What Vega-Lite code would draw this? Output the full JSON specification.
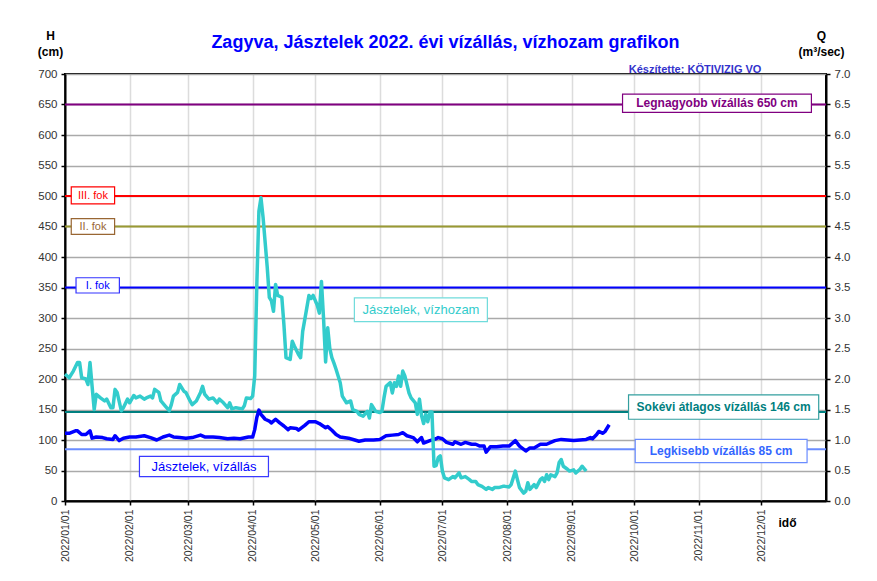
{
  "$schema": "https://vega.github.io/schema/vega-lite/v6.json",
  "autosize": {"type": "none"},
  "padding": {"left": 65, "top": 74, "right": 51, "bottom": 80},
  "width": 761,
  "height": 427,
  "background": "white",
  "title": {
    "text": "Zagyva, Jásztelek 2022. évi vízállás, vízhozam grafikon",
    "anchor": "middle",
    "frame": "group",
    "font": "Liberation Sans",
    "fontSize": 18,
    "fontWeight": "bold",
    "color": "#0000ff",
    "baseline": "alphabetic",
    "offset": -37
  },
  "config": {
    "font": "Liberation Sans",
    "view": {"stroke": "#000000", "strokeWidth": 2},
    "axis": {
      "domainColor": "#000000",
      "domainWidth": 2,
      "tickColor": "#000000",
      "tickWidth": 1.5,
      "tickSize": 4,
      "labelColor": "#333333",
      "labelFont": "Liberation Sans",
      "titleFont": "Liberation Sans",
      "titleColor": "#000000"
    }
  },
  "datasets": {
    "h": [
      {"d": "2022-01-01", "h": 111}, {"d": "2022-01-03", "h": 111}, {"d": "2022-01-06", "h": 115}, {"d": "2022-01-07", "h": 115},
      {"d": "2022-01-09", "h": 109}, {"d": "2022-01-11", "h": 109}, {"d": "2022-01-13", "h": 115}, {"d": "2022-01-14", "h": 103},
      {"d": "2022-01-16", "h": 105}, {"d": "2022-01-19", "h": 104}, {"d": "2022-01-21", "h": 102}, {"d": "2022-01-24", "h": 101},
      {"d": "2022-01-25", "h": 107}, {"d": "2022-01-27", "h": 99}, {"d": "2022-01-29", "h": 103}, {"d": "2022-02-01", "h": 105},
      {"d": "2022-02-04", "h": 105}, {"d": "2022-02-08", "h": 107}, {"d": "2022-02-11", "h": 104}, {"d": "2022-02-14", "h": 100},
      {"d": "2022-02-17", "h": 105}, {"d": "2022-02-20", "h": 108}, {"d": "2022-02-22", "h": 105}, {"d": "2022-02-25", "h": 104},
      {"d": "2022-02-28", "h": 103}, {"d": "2022-03-03", "h": 104}, {"d": "2022-03-07", "h": 108}, {"d": "2022-03-09", "h": 105},
      {"d": "2022-03-13", "h": 105}, {"d": "2022-03-16", "h": 104}, {"d": "2022-03-20", "h": 102}, {"d": "2022-03-23", "h": 103},
      {"d": "2022-03-26", "h": 102}, {"d": "2022-03-30", "h": 105}, {"d": "2022-04-01", "h": 105}, {"d": "2022-04-02", "h": 117},
      {"d": "2022-04-03", "h": 137}, {"d": "2022-04-04", "h": 149}, {"d": "2022-04-05", "h": 142}, {"d": "2022-04-07", "h": 134},
      {"d": "2022-04-09", "h": 131}, {"d": "2022-04-10", "h": 128}, {"d": "2022-04-12", "h": 134}, {"d": "2022-04-14", "h": 128},
      {"d": "2022-04-16", "h": 123}, {"d": "2022-04-18", "h": 117}, {"d": "2022-04-19", "h": 120}, {"d": "2022-04-22", "h": 119},
      {"d": "2022-04-23", "h": 116}, {"d": "2022-04-26", "h": 124}, {"d": "2022-04-28", "h": 130}, {"d": "2022-05-01", "h": 130},
      {"d": "2022-05-03", "h": 127}, {"d": "2022-05-06", "h": 120}, {"d": "2022-05-07", "h": 122}, {"d": "2022-05-09", "h": 116},
      {"d": "2022-05-11", "h": 109}, {"d": "2022-05-13", "h": 105}, {"d": "2022-05-17", "h": 103}, {"d": "2022-05-20", "h": 100},
      {"d": "2022-05-22", "h": 98}, {"d": "2022-05-25", "h": 100}, {"d": "2022-05-29", "h": 100}, {"d": "2022-06-01", "h": 101},
      {"d": "2022-06-04", "h": 107}, {"d": "2022-06-07", "h": 108}, {"d": "2022-06-10", "h": 109}, {"d": "2022-06-12", "h": 112},
      {"d": "2022-06-14", "h": 107}, {"d": "2022-06-17", "h": 104}, {"d": "2022-06-19", "h": 97}, {"d": "2022-06-21", "h": 104},
      {"d": "2022-06-22", "h": 95}, {"d": "2022-06-25", "h": 99}, {"d": "2022-06-28", "h": 102}, {"d": "2022-06-29", "h": 104},
      {"d": "2022-07-01", "h": 102}, {"d": "2022-07-03", "h": 96}, {"d": "2022-07-06", "h": 93}, {"d": "2022-07-07", "h": 97},
      {"d": "2022-07-10", "h": 93}, {"d": "2022-07-12", "h": 96}, {"d": "2022-07-15", "h": 93}, {"d": "2022-07-17", "h": 93},
      {"d": "2022-07-19", "h": 90}, {"d": "2022-07-21", "h": 90}, {"d": "2022-07-22", "h": 80}, {"d": "2022-07-24", "h": 89},
      {"d": "2022-07-27", "h": 89}, {"d": "2022-07-30", "h": 90}, {"d": "2022-08-02", "h": 90}, {"d": "2022-08-05", "h": 99},
      {"d": "2022-08-07", "h": 90}, {"d": "2022-08-10", "h": 82}, {"d": "2022-08-12", "h": 87}, {"d": "2022-08-14", "h": 87},
      {"d": "2022-08-17", "h": 93}, {"d": "2022-08-20", "h": 93}, {"d": "2022-08-22", "h": 96}, {"d": "2022-08-24", "h": 99},
      {"d": "2022-08-27", "h": 101}, {"d": "2022-08-30", "h": 100}, {"d": "2022-09-02", "h": 99}, {"d": "2022-09-05", "h": 100},
      {"d": "2022-09-08", "h": 101}, {"d": "2022-09-10", "h": 104}, {"d": "2022-09-11", "h": 102}, {"d": "2022-09-13", "h": 109},
      {"d": "2022-09-14", "h": 114}, {"d": "2022-09-16", "h": 111}, {"d": "2022-09-17", "h": 114}, {"d": "2022-09-19", "h": 125}
    ],
    "q": [
      {"d": "2022-01-01", "q": 2.08}, {"d": "2022-01-03", "q": 2.02}, {"d": "2022-01-05", "q": 2.13}, {"d": "2022-01-07", "q": 2.27},
      {"d": "2022-01-08", "q": 2.27}, {"d": "2022-01-09", "q": 2.02}, {"d": "2022-01-11", "q": 2.0}, {"d": "2022-01-12", "q": 1.91},
      {"d": "2022-01-13", "q": 2.27}, {"d": "2022-01-14", "q": 1.88}, {"d": "2022-01-15", "q": 1.5}, {"d": "2022-01-16", "q": 1.75},
      {"d": "2022-01-18", "q": 1.69}, {"d": "2022-01-20", "q": 1.64}, {"d": "2022-01-21", "q": 1.67}, {"d": "2022-01-23", "q": 1.53},
      {"d": "2022-01-24", "q": 1.53}, {"d": "2022-01-25", "q": 1.83}, {"d": "2022-01-26", "q": 1.78}, {"d": "2022-01-28", "q": 1.48},
      {"d": "2022-01-29", "q": 1.53}, {"d": "2022-01-31", "q": 1.67}, {"d": "2022-02-01", "q": 1.61}, {"d": "2022-02-03", "q": 1.73},
      {"d": "2022-02-04", "q": 1.69}, {"d": "2022-02-06", "q": 1.72}, {"d": "2022-02-08", "q": 1.67}, {"d": "2022-02-09", "q": 1.69},
      {"d": "2022-02-11", "q": 1.72}, {"d": "2022-02-12", "q": 1.69}, {"d": "2022-02-13", "q": 1.83}, {"d": "2022-02-15", "q": 1.78},
      {"d": "2022-02-16", "q": 1.64}, {"d": "2022-02-18", "q": 1.56}, {"d": "2022-02-20", "q": 1.48}, {"d": "2022-02-21", "q": 1.58},
      {"d": "2022-02-22", "q": 1.72}, {"d": "2022-02-24", "q": 1.78}, {"d": "2022-02-25", "q": 1.91}, {"d": "2022-02-27", "q": 1.8},
      {"d": "2022-02-28", "q": 1.78}, {"d": "2022-03-02", "q": 1.64}, {"d": "2022-03-03", "q": 1.58}, {"d": "2022-03-05", "q": 1.64},
      {"d": "2022-03-07", "q": 1.78}, {"d": "2022-03-08", "q": 1.88}, {"d": "2022-03-09", "q": 1.75}, {"d": "2022-03-11", "q": 1.67},
      {"d": "2022-03-13", "q": 1.69}, {"d": "2022-03-15", "q": 1.61}, {"d": "2022-03-16", "q": 1.67}, {"d": "2022-03-18", "q": 1.61},
      {"d": "2022-03-20", "q": 1.53}, {"d": "2022-03-21", "q": 1.61}, {"d": "2022-03-22", "q": 1.51}, {"d": "2022-03-24", "q": 1.53},
      {"d": "2022-03-27", "q": 1.51}, {"d": "2022-03-28", "q": 1.56}, {"d": "2022-03-29", "q": 1.69}, {"d": "2022-03-31", "q": 1.68},
      {"d": "2022-04-01", "q": 1.72}, {"d": "2022-04-02", "q": 2.05}, {"d": "2022-04-03", "q": 3.55}, {"d": "2022-04-04", "q": 4.75},
      {"d": "2022-04-05", "q": 4.97}, {"d": "2022-04-06", "q": 4.65}, {"d": "2022-04-08", "q": 3.83}, {"d": "2022-04-09", "q": 3.34},
      {"d": "2022-04-10", "q": 3.28}, {"d": "2022-04-11", "q": 3.11}, {"d": "2022-04-12", "q": 3.55}, {"d": "2022-04-13", "q": 3.37},
      {"d": "2022-04-15", "q": 3.34}, {"d": "2022-04-16", "q": 2.89}, {"d": "2022-04-17", "q": 2.35}, {"d": "2022-04-19", "q": 2.32},
      {"d": "2022-04-20", "q": 2.62}, {"d": "2022-04-21", "q": 2.54}, {"d": "2022-04-23", "q": 2.4}, {"d": "2022-04-24", "q": 2.35},
      {"d": "2022-04-25", "q": 2.78}, {"d": "2022-04-27", "q": 3.17}, {"d": "2022-04-28", "q": 3.37}, {"d": "2022-04-29", "q": 3.32},
      {"d": "2022-04-30", "q": 3.37}, {"d": "2022-05-02", "q": 3.21}, {"d": "2022-05-03", "q": 3.08}, {"d": "2022-05-04", "q": 3.6},
      {"d": "2022-05-05", "q": 3.0}, {"d": "2022-05-06", "q": 2.28}, {"d": "2022-05-07", "q": 2.84}, {"d": "2022-05-08", "q": 2.5},
      {"d": "2022-05-09", "q": 2.35}, {"d": "2022-05-10", "q": 2.26}, {"d": "2022-05-11", "q": 2.16}, {"d": "2022-05-13", "q": 1.94},
      {"d": "2022-05-14", "q": 1.72}, {"d": "2022-05-16", "q": 1.61}, {"d": "2022-05-18", "q": 1.64}, {"d": "2022-05-19", "q": 1.5},
      {"d": "2022-05-21", "q": 1.47}, {"d": "2022-05-22", "q": 1.42}, {"d": "2022-05-24", "q": 1.39}, {"d": "2022-05-26", "q": 1.47},
      {"d": "2022-05-27", "q": 1.36}, {"d": "2022-05-28", "q": 1.58}, {"d": "2022-05-30", "q": 1.47}, {"d": "2022-06-01", "q": 1.45},
      {"d": "2022-06-02", "q": 1.47}, {"d": "2022-06-03", "q": 1.69}, {"d": "2022-06-04", "q": 1.88}, {"d": "2022-06-06", "q": 1.94},
      {"d": "2022-06-07", "q": 1.77}, {"d": "2022-06-08", "q": 1.94}, {"d": "2022-06-09", "q": 1.88}, {"d": "2022-06-10", "q": 2.05},
      {"d": "2022-06-11", "q": 1.88}, {"d": "2022-06-12", "q": 2.13}, {"d": "2022-06-13", "q": 2.05}, {"d": "2022-06-15", "q": 1.77},
      {"d": "2022-06-16", "q": 1.69}, {"d": "2022-06-18", "q": 1.61}, {"d": "2022-06-19", "q": 1.42}, {"d": "2022-06-20", "q": 1.67},
      {"d": "2022-06-21", "q": 1.4}, {"d": "2022-06-22", "q": 1.27}, {"d": "2022-06-23", "q": 1.42}, {"d": "2022-06-24", "q": 1.3},
      {"d": "2022-06-25", "q": 1.46}, {"d": "2022-06-26", "q": 1.46}, {"d": "2022-06-27", "q": 0.57}, {"d": "2022-06-28", "q": 0.58},
      {"d": "2022-06-29", "q": 0.71}, {"d": "2022-06-30", "q": 0.74}, {"d": "2022-07-01", "q": 0.49}, {"d": "2022-07-02", "q": 0.38},
      {"d": "2022-07-04", "q": 0.35}, {"d": "2022-07-06", "q": 0.4}, {"d": "2022-07-07", "q": 0.38}, {"d": "2022-07-09", "q": 0.46},
      {"d": "2022-07-10", "q": 0.38}, {"d": "2022-07-12", "q": 0.4}, {"d": "2022-07-14", "q": 0.35}, {"d": "2022-07-15", "q": 0.32},
      {"d": "2022-07-17", "q": 0.32}, {"d": "2022-07-18", "q": 0.27}, {"d": "2022-07-20", "q": 0.24}, {"d": "2022-07-22", "q": 0.19},
      {"d": "2022-07-23", "q": 0.22}, {"d": "2022-07-25", "q": 0.19}, {"d": "2022-07-26", "q": 0.22}, {"d": "2022-07-28", "q": 0.22},
      {"d": "2022-07-30", "q": 0.24}, {"d": "2022-07-31", "q": 0.24}, {"d": "2022-08-02", "q": 0.23}, {"d": "2022-08-03", "q": 0.27},
      {"d": "2022-08-05", "q": 0.49}, {"d": "2022-08-06", "q": 0.35}, {"d": "2022-08-07", "q": 0.22}, {"d": "2022-08-09", "q": 0.13},
      {"d": "2022-08-10", "q": 0.16}, {"d": "2022-08-11", "q": 0.3}, {"d": "2022-08-12", "q": 0.19}, {"d": "2022-08-14", "q": 0.27},
      {"d": "2022-08-15", "q": 0.22}, {"d": "2022-08-17", "q": 0.35}, {"d": "2022-08-18", "q": 0.38}, {"d": "2022-08-19", "q": 0.32},
      {"d": "2022-08-20", "q": 0.43}, {"d": "2022-08-21", "q": 0.35}, {"d": "2022-08-22", "q": 0.43}, {"d": "2022-08-24", "q": 0.4},
      {"d": "2022-08-25", "q": 0.46}, {"d": "2022-08-26", "q": 0.63}, {"d": "2022-08-27", "q": 0.68}, {"d": "2022-08-28", "q": 0.57},
      {"d": "2022-08-30", "q": 0.52}, {"d": "2022-08-31", "q": 0.49}, {"d": "2022-09-02", "q": 0.51}, {"d": "2022-09-03", "q": 0.46},
      {"d": "2022-09-05", "q": 0.52}, {"d": "2022-09-06", "q": 0.57}, {"d": "2022-09-08", "q": 0.49}
    ],
    "refs": [
      {"ref": "max", "h": 650}, {"ref": "III", "h": 500}, {"ref": "II", "h": 450},
      {"ref": "I", "h": 350}, {"ref": "avg", "h": 146}, {"ref": "min", "h": 85}
    ],
    "labels": [
      {"label": "III. fok", "x1": "2022-01-04T00:00:00Z", "x2": "2022-01-24T19:00:00Z", "xm": "2022-01-14T10:00:00Z", "y1": 487, "y2": 515, "ym": 500},
      {"label": "II. fok", "x1": "2022-01-04T00:00:00Z", "x2": "2022-01-24T19:00:00Z", "xm": "2022-01-14T10:00:00Z", "y1": 437, "y2": 463, "ym": 450},
      {"label": "I. fok", "x1": "2022-01-06T07:00:00Z", "x2": "2022-01-27T02:00:00Z", "xm": "2022-01-16T17:00:00Z", "y1": 341, "y2": 366, "ym": 353},
      {"label": "Legnagyobb vízállás 650 cm", "x1": "2022-09-25T10:00:00Z", "x2": "2022-12-25T00:00:00Z", "xm": "2022-11-09T17:00:00Z", "y1": 637, "y2": 667, "ym": 652},
      {"label": "Sokévi átlagos vízállás 146 cm", "x1": "2022-09-28T07:00:00Z", "x2": "2022-12-28T12:00:00Z", "xm": "2022-11-12T22:00:00Z", "y1": 134, "y2": 174, "ym": 154},
      {"label": "Legkisebb vízállás 85 cm", "x1": "2022-10-01T12:00:00Z", "x2": "2022-12-22T22:00:00Z", "xm": "2022-11-11T17:00:00Z", "y1": 63, "y2": 101, "ym": 82},
      {"label": "Jásztelek, vízhozam", "x1": "2022-05-19T19:00:00Z", "x2": "2022-07-22T14:00:00Z", "xm": "2022-06-20T17:00:00Z", "y1": 294, "y2": 333, "ym": 313},
      {"label": "Jásztelek, vízállás", "x1": "2022-02-05T17:00:00Z", "x2": "2022-04-08T14:00:00Z", "xm": "2022-03-08T16:00:00Z", "y1": 40, "y2": 73, "ym": 56.5}
    ],
    "credit": [
      {"text": "Készítette: KÖTIVIZIG VO", "d": "2022-10-30T05:00:00Z", "h": 706}
    ]
  },
  "layer": [
    {
      "data": {"name": "refs"},
      "mark": {"type": "rule", "strokeWidth": 2},
      "encoding": {
        "y": {
          "field": "h", "type": "quantitative",
          "scale": {"domain": [0, 700], "nice": false, "zero": true},
          "axis": {
            "values": [0, 50, 100, 150, 200, 250, 300, 350, 400, 450, 500, 550, 600, 650, 700],
            "grid": true, "gridColor": "#aaaaaa", "gridWidth": 1.5,
            "labelFontSize": 11.5, "labelPadding": 4,
            "title": ["H", "(cm)"], "titleAngle": 0, "titleAlign": "center", "titleBaseline": "alphabetic",
            "titleX": -15, "titleY": -35, "titleFontSize": 12, "titleFontWeight": "bold", "titleLineHeight": 16.5
          }
        },
        "color": {
          "field": "ref", "type": "nominal", "legend": null,
          "scale": {"domain": ["max", "III", "II", "I", "avg", "min"], "range": ["#800080", "#ff0000", "#999933", "#0000ff", "#008080", "#6a8cff"]}
        }
      }
    },
    {
      "data": {"name": "h"},
      "mark": {"type": "line", "color": "#0000ff", "strokeWidth": 3.5, "strokeJoin": "round"},
      "encoding": {
        "x": {
          "field": "d", "type": "temporal",
          "scale": {"domain": [{"year": 2022, "month": 1, "date": 1, "utc": true}, {"year": 2022, "month": 12, "date": 31, "hours": 23, "minutes": 59, "utc": true}]},
          "axis": {
            "tickCount": {"interval": "month", "step": 1}, "format": "%Y/%m/%d",
            "labelAngle": -90, "labelFontSize": 10.5, "labelFlush": false, "labelOverlap": false, "labelPadding": 4,
            "grid": true, "gridColor": "#dcdcdc", "gridWidth": 1.5,
            "title": "idő", "titleAngle": 0, "titleAlign": "center", "titleBaseline": "middle",
            "titleX": 722, "titleY": 21, "titleFontSize": 12, "titleFontWeight": "bold"
          }
        },
        "y": {"field": "h", "type": "quantitative", "scale": {"domain": [0, 700], "nice": false}, "axis": null}
      }
    },
    {
      "data": {"name": "labels"},
      "mark": {"type": "rect", "fill": "white", "strokeWidth": 1.2},
      "encoding": {
        "x": {"field": "x1", "type": "temporal", "scale": {"domain": [{"year": 2022, "month": 1, "date": 1, "utc": true}, {"year": 2022, "month": 12, "date": 31, "hours": 23, "minutes": 59, "utc": true}]}},
        "x2": {"field": "x2"},
        "y": {"field": "y1", "type": "quantitative", "scale": {"domain": [0, 700], "nice": false}, "axis": null},
        "y2": {"field": "y2"},
        "stroke": {
          "field": "label", "type": "nominal", "legend": null,
          "scale": {
            "domain": ["III. fok", "II. fok", "I. fok", "Legnagyobb vízállás 650 cm", "Sokévi átlagos vízállás 146 cm", "Legkisebb vízállás 85 cm", "Jásztelek, vízhozam", "Jásztelek, vízállás"],
            "range": ["#ff0000", "#996633", "#3333ff", "#800080", "#339f9f", "#6a8cff", "#70dcdc", "#3a3aff"]
          }
        }
      }
    },
    {
      "data": {"name": "labels"},
      "transform": [{"filter": {"field": "label", "oneOf": ["III. fok", "II. fok", "I. fok"]}}],
      "mark": {"type": "text", "fontSize": 11, "align": "center", "baseline": "middle"},
      "encoding": {
        "x": {"field": "xm", "type": "temporal", "scale": {"domain": [{"year": 2022, "month": 1, "date": 1, "utc": true}, {"year": 2022, "month": 12, "date": 31, "hours": 23, "minutes": 59, "utc": true}]}},
        "y": {"field": "ym", "type": "quantitative", "scale": {"domain": [0, 700], "nice": false}, "axis": null},
        "text": {"field": "label"},
        "fill": {
          "field": "label", "type": "nominal", "legend": null,
          "scale": {
            "domain": ["III. fok", "II. fok", "I. fok", "Legnagyobb vízállás 650 cm", "Sokévi átlagos vízállás 146 cm", "Legkisebb vízállás 85 cm", "Jásztelek, vízhozam", "Jásztelek, vízállás"],
            "range": ["#ff0000", "#996633", "#0000ff", "#800080", "#008080", "#3366ff", "#33cccc", "#0000ff"]
          }
        }
      }
    },
    {
      "data": {"name": "labels"},
      "transform": [{"filter": {"field": "label", "oneOf": ["Legnagyobb vízállás 650 cm", "Sokévi átlagos vízállás 146 cm", "Legkisebb vízállás 85 cm"]}}],
      "mark": {"type": "text", "fontSize": 12, "fontWeight": "bold", "align": "center", "baseline": "middle"},
      "encoding": {
        "x": {"field": "xm", "type": "temporal", "scale": {"domain": [{"year": 2022, "month": 1, "date": 1, "utc": true}, {"year": 2022, "month": 12, "date": 31, "hours": 23, "minutes": 59, "utc": true}]}},
        "y": {"field": "ym", "type": "quantitative", "scale": {"domain": [0, 700], "nice": false}, "axis": null},
        "text": {"field": "label"},
        "fill": {
          "field": "label", "type": "nominal", "legend": null,
          "scale": {
            "domain": ["III. fok", "II. fok", "I. fok", "Legnagyobb vízállás 650 cm", "Sokévi átlagos vízállás 146 cm", "Legkisebb vízállás 85 cm", "Jásztelek, vízhozam", "Jásztelek, vízállás"],
            "range": ["#ff0000", "#996633", "#0000ff", "#800080", "#008080", "#3366ff", "#33cccc", "#0000ff"]
          }
        }
      }
    },
    {
      "data": {"name": "labels"},
      "transform": [{"filter": {"field": "label", "oneOf": ["Jásztelek, vízhozam", "Jásztelek, vízállás"]}}],
      "mark": {"type": "text", "fontSize": 13, "align": "center", "baseline": "middle"},
      "encoding": {
        "x": {"field": "xm", "type": "temporal", "scale": {"domain": [{"year": 2022, "month": 1, "date": 1, "utc": true}, {"year": 2022, "month": 12, "date": 31, "hours": 23, "minutes": 59, "utc": true}]}},
        "y": {"field": "ym", "type": "quantitative", "scale": {"domain": [0, 700], "nice": false}, "axis": null},
        "text": {"field": "label"},
        "fill": {
          "field": "label", "type": "nominal", "legend": null,
          "scale": {
            "domain": ["III. fok", "II. fok", "I. fok", "Legnagyobb vízállás 650 cm", "Sokévi átlagos vízállás 146 cm", "Legkisebb vízállás 85 cm", "Jásztelek, vízhozam", "Jásztelek, vízállás"],
            "range": ["#ff0000", "#996633", "#0000ff", "#800080", "#008080", "#3366ff", "#33cccc", "#0000ff"]
          }
        }
      }
    },
    {
      "data": {"name": "credit"},
      "mark": {"type": "text", "fontSize": 11, "fontWeight": "bold", "color": "#3333cc", "align": "center", "baseline": "middle"},
      "encoding": {
        "x": {"field": "d", "type": "temporal", "scale": {"domain": [{"year": 2022, "month": 1, "date": 1, "utc": true}, {"year": 2022, "month": 12, "date": 31, "hours": 23, "minutes": 59, "utc": true}]}},
        "y": {"field": "h", "type": "quantitative", "scale": {"domain": [0, 700], "nice": false}, "axis": null},
        "text": {"field": "text"}
      }
    },
    {
      "data": {"name": "q"},
      "mark": {"type": "line", "color": "#33cccc", "strokeWidth": 3.5, "strokeJoin": "round"},
      "encoding": {
        "x": {"field": "d", "type": "temporal", "scale": {"domain": [{"year": 2022, "month": 1, "date": 1, "utc": true}, {"year": 2022, "month": 12, "date": 31, "hours": 23, "minutes": 59, "utc": true}]}},
        "y": {
          "field": "q", "type": "quantitative",
          "scale": {"domain": [0, 7], "nice": false},
          "axis": {
            "orient": "right",
            "values": [0, 0.5, 1, 1.5, 2, 2.5, 3, 3.5, 4, 4.5, 5, 5.5, 6, 6.5, 7],
            "format": ".1f", "grid": false,
            "labelFontSize": 11.5, "labelPadding": 4,
            "title": ["Q", "(m³/sec)"], "titleAngle": 0, "titleAlign": "center", "titleBaseline": "alphabetic",
            "titleX": -5, "titleY": -35, "titleFontSize": 12, "titleFontWeight": "bold", "titleLineHeight": 16.5
          }
        }
      }
    }
  ],
  "resolve": {"scale": {"y": "independent"}, "axis": {"y": "independent"}}
}
